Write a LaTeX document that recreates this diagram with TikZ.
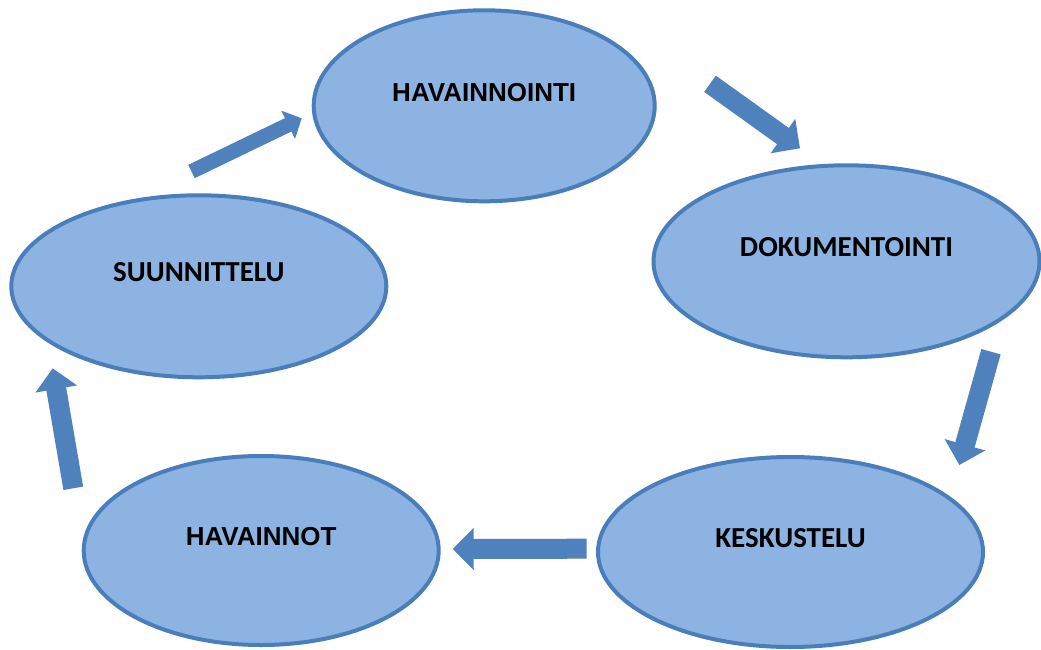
\documentclass[tikz,border=0pt]{standalone}
\usepackage{fontspec}
\setmainfont{Carlito}
\newfontfamily\arialfont{Liberation Sans}
\usetikzlibrary{shapes.geometric,arrows.meta}
\definecolor{ovalfill}{RGB}{141,179,226}
\definecolor{ovalline}{RGB}{74,126,187}
\definecolor{arrowfill}{RGB}{79,129,189}
\begin{document}
\begin{tikzpicture}[x=1pt,y=-1pt]
  \tikzstyle{oval}=[ellipse,draw=ovalline,fill=ovalfill,line width=4pt,inner sep=0pt,
    text height=18.5pt,text depth=28pt,font=\bfseries\fontsize{29}{29}\selectfont]
  \tikzstyle{ovalarial}=[oval,font=\arialfont\bfseries\fontsize{26}{26}\selectfont]
  \tikzstyle{blockarrow}=[draw=arrowfill,line width=20pt,-{Triangle[width=41pt,length=21pt]}]
  \useasboundingbox (0,0) rectangle (1041,650);
  \node (hav)  [ovalarial,minimum width=341pt,minimum height=191pt] at (484.2,105.8) {HAVAINNOINTI};
  \node (dok)  [oval,minimum width=386pt,minimum height=192pt] at (846.5,261.3) {DOKUMENTOINTI};
  \node (kes)  [oval,minimum width=385pt,minimum height=190pt] at (790.5,552) {KESKUSTELU};
  \node (havn) [ovalarial,minimum width=355pt,minimum height=189pt] at (261.2,550.5) {HAVAINNOT};
  \node (suu)  [oval,minimum width=375pt,minimum height=182pt] at (198.8,286.3) {SUUNNITTELU};
  \coordinate (s1) at (191.5,171.5); \coordinate (e1) at (301.7,118.3);
  \coordinate (s2) at (710,83.8);    \coordinate (e2) at (800,148.3);
  \coordinate (s3) at (991,351.7);   \coordinate (e3) at (959.3,465);
  \coordinate (s4) at (586.7,548.7); \coordinate (e4) at (452.7,549);
  \coordinate (s5) at (73.3,488.3);  \coordinate (e5) at (52.7,368.3);
  \draw [blockarrow,line width=14.8pt,-{Triangle[width=30.5pt,length=15pt]}] (s1) -- (e1);
  \draw [blockarrow] (s2) -- (e2);
  \draw [blockarrow] (s3) -- (e3);
  \draw [blockarrow] (s4) -- (e4);
  \draw [blockarrow] (s5) -- (e5);
\end{tikzpicture}
\end{document}
